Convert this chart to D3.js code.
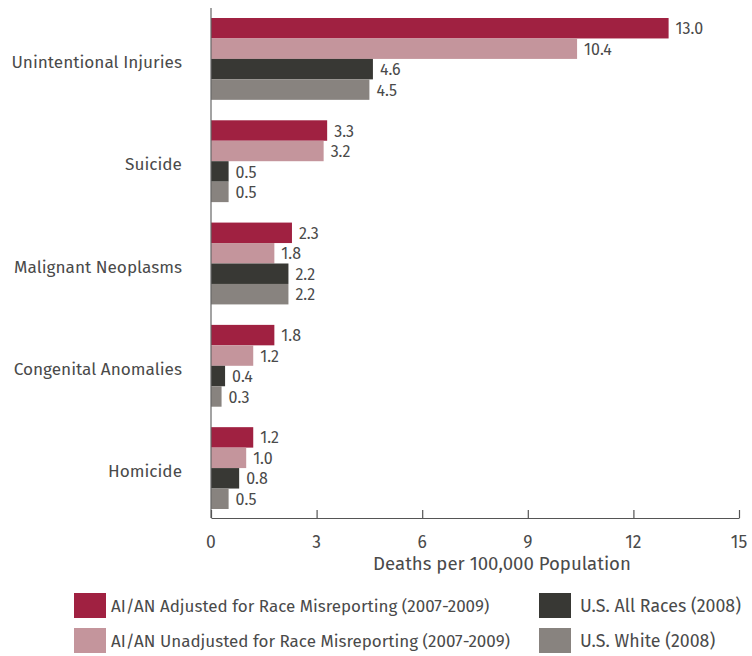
<!DOCTYPE html>
<html>
<head>
<meta charset="utf-8">
<script src="https://cdn.jsdelivr.net/npm/d3@7"></script>
<style>
  html, body { margin: 0; padding: 0; background: #fff; }
  svg { display: block; font-family: "Fira Sans", "Lato", "Noto Sans", sans-serif; }
</style>
</head>
<body>
<svg id="chart" width="752" height="656"></svg>
<script>
// Leading causes of death, deaths per 100,000 population
const categories = ["Unintentional Injuries", "Suicide", "Malignant Neoplasms", "Congenital Anomalies", "Homicide"];
const seriesNames = [
  "AI/AN Adjusted for Race Misreporting (2007-2009)",
  "AI/AN Unadjusted for Race Misreporting (2007-2009)",
  "U.S. All Races (2008)",
  "U.S. White (2008)"
];
const adjusted   = [13.0, 3.3, 2.3, 1.8, 1.2];
const unadjusted = [10.4, 3.2, 1.8, 1.2, 1.0];
const allRaces   = [4.6, 0.5, 2.2, 0.4, 0.8];
const white      = [4.5, 0.5, 2.2, 0.3, 0.5];
const xTicks = [0, 3, 6, 9, 12, 15];
const colors = ["#A02141", "#C4959C", "#383834", "#88837F"];

const seriesValues = [adjusted, unadjusted, allRaces, white];
const svg = d3.select("#chart");
const plotLeft = 211, plotRight = 739, plotTop = 8, plotBottom = 518;
const textColor = "#4a4a4a";

const x = d3.scaleLinear().domain([0, 15]).range([plotLeft, plotRight]);
const y0 = d3.scaleBand().domain(categories).range([plotTop + 10, plotBottom - 9]).paddingInner(0.2).paddingOuter(0);
const y1 = d3.scaleBand().domain(d3.range(seriesNames.length)).range([0, y0.bandwidth()]);

const groups = svg.append("g").selectAll("g")
  .data(categories).join("g")
  .attr("transform", d => `translate(0,${y0(d)})`);

groups.selectAll("rect")
  .data((d, i) => seriesValues.map((vals, s) => ({ s, v: vals[i] })))
  .join("rect")
  .attr("x", x(0))
  .attr("y", d => y1(d.s))
  .attr("width", d => x(d.v) - x(0))
  .attr("height", y1.bandwidth())
  .attr("fill", d => colors[d.s]);

groups.selectAll("text.val")
  .data((d, i) => seriesValues.map((vals, s) => ({ s, v: vals[i] })))
  .join("text")
  .attr("class", "val")
  .attr("x", d => x(d.v) + 7)
  .attr("y", d => y1(d.s) + y1.bandwidth() / 2)
  .attr("dy", "0.38em")
  .attr("font-size", 16)
  .attr("fill", textColor)
  .text(d => d.v.toFixed(1));

// category labels
svg.append("g").selectAll("text")
  .data(categories).join("text")
  .attr("x", 182)
  .attr("y", d => y0(d) + y0.bandwidth() / 2 + 3)
  .attr("dy", "0.36em")
  .attr("text-anchor", "end")
  .attr("font-size", 17.2)
  .attr("fill", textColor)
  .text(d => d);

// vertical baseline
svg.append("line")
  .attr("x1", x(0)).attr("x2", x(0))
  .attr("y1", plotTop).attr("y2", plotBottom)
  .attr("stroke", "#666").attr("stroke-width", 1.2);

// x axis with upward ticks
const xAxis = svg.append("g")
  .attr("transform", `translate(0,${plotBottom})`)
  .call(d3.axisTop(x).tickValues(xTicks).tickSize(8).tickSizeOuter(0).tickFormat(""));
xAxis.select(".domain").attr("stroke", "#555").attr("stroke-width", 1.2);
xAxis.selectAll(".tick line").attr("stroke", "#555").attr("stroke-width", 1.2);

svg.append("g").selectAll("text")
  .data(xTicks).join("text")
  .attr("x", d => x(d))
  .attr("y", 548)
  .attr("text-anchor", "middle")
  .attr("font-size", 17.5)
  .attr("fill", textColor)
  .text(d => d);

svg.append("text")
  .attr("x", 502)
  .attr("y", 570)
  .attr("text-anchor", "middle")
  .attr("font-size", 18.6)
  .attr("fill", textColor)
  .text("Deaths per 100,000 Population");

// legend
const legendPos = [[74, 593, 37], [74, 628, 37], [539, 593, 41], [539, 628, 41]];
const legend = svg.append("g").selectAll("g")
  .data(seriesNames).join("g")
  .attr("transform", (d, i) => `translate(${legendPos[i][0]},${legendPos[i][1]})`);
legend.append("rect")
  .attr("width", 32).attr("height", 25)
  .attr("fill", (d, i) => colors[i]);
legend.append("text")
  .attr("x", (d, i) => legendPos[i][2]).attr("y", 12.5).attr("dy", "0.36em")
  .attr("font-size", (d, i) => i < 2 ? 17 : 17.8)
  .attr("fill", textColor)
  .text(d => d);
</script>
</body>
</html>
